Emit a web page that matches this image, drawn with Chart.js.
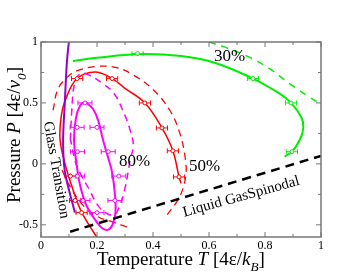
<!DOCTYPE html>
<html><head><meta charset="utf-8">
<script src="https://cdn.jsdelivr.net/npm/chart.js@4/dist/chart.umd.min.js"></script>
<style>html,body{margin:0;padding:0;background:#fff}#wrap{width:362px;height:280px}</style>
</head><body><div id="wrap"><canvas id="c" width="362" height="280"></canvas></div>
<script>
// ---- tick labels ----
const xTickLabels = [0, 0.2, 0.4, 0.6, 0.8, 1];
const yTickLabels = [-0.5, 0, 0.5, 1];
const xMinorTicks = [0.1, 0.3, 0.5, 0.7, 0.9];
const yMinorTicks = [-0.25, 0.25, 0.75];

// ---- curves (T, P) ----
const green30T = [0.114, 0.2, 0.345, 0.5, 0.62, 0.757, 0.85, 0.893, 0.93, 0.937, 0.925, 0.896, 0.87];
const green30P = [0.845, 0.87, 0.9, 0.885, 0.83, 0.70, 0.58, 0.50, 0.38, 0.30, 0.2, 0.10, 0.06];
const green30dT = [0.6, 0.654, 0.74, 0.81, 0.893, 0.957, 1.0];
const green30dP = [1.0, 0.96, 0.88, 0.79, 0.65, 0.55, 0.49];

const red50T = [0.21, 0.146, 0.114, 0.086, 0.068, 0.072, 0.088, 0.129, 0.193, 0.254, 0.30, 0.371, 0.432, 0.471, 0.493, 0.50];
const red50P = [-0.64, -0.40, -0.21, 0.0, 0.2, 0.385, 0.53, 0.70, 0.754, 0.70, 0.62, 0.50, 0.295, 0.107, -0.107, -0.16];
const red50dT = [0.043, 0.06, 0.093, 0.13, 0.2, 0.27, 0.329, 0.4, 0.46, 0.496, 0.515, 0.517, 0.495, 0.45];
const red50dP = [0.44, 0.61, 0.71, 0.765, 0.80, 0.79, 0.73, 0.61, 0.44, 0.25, 0.05, -0.1, -0.27, -0.42];
const red50d2T = [0.075, 0.1, 0.15, 0.2, 0.26, 0.31];
const red50d2P = [-0.05, -0.17, -0.34, -0.43, -0.48, -0.52];

const mag80T = [0.157, 0.186, 0.205, 0.221, 0.24, 0.254, 0.264, 0.266, 0.255, 0.24, 0.22, 0.2, 0.164, 0.14, 0.127, 0.118, 0.125, 0.14, 0.157];
const mag80P = [0.51, 0.45, 0.35, 0.2, 0.05, -0.07, -0.25, -0.40, -0.5, -0.54, -0.53, -0.48, -0.35, -0.18, 0.0, 0.2, 0.38, 0.48, 0.51];
const mag80dT = [0.105, 0.11, 0.12, 0.14, 0.17, 0.22, 0.26, 0.29, 0.318, 0.33, 0.32, 0.30, 0.28, 0.26, 0.23, 0.2, 0.17, 0.145, 0.125, 0.105];
const mag80dP = [0.2, 0.44, 0.66, 0.74, 0.73, 0.66, 0.58, 0.45, 0.28, 0.15, 0.05, -0.2, -0.35, -0.42, -0.4, -0.33, -0.2, -0.1, 0.0, 0.2];

const glassT = [0.102, 0.093, 0.085, 0.079, 0.082, 0.09, 0.121];
const glassP = [1.05, 0.85, 0.5, 0.2, 0.0, -0.12, -0.40];

const spinT = [0.104, 1.0];
const spinP = [-0.557, 0.066];

// ---- simulation points with T error ----
const redPtT = [0.129, 0.254, 0.371, 0.432, 0.471, 0.493, 0.105, 0.122, 0.145];
const redPtP = [0.70, 0.70, 0.50, 0.295, 0.107, -0.107, -0.1, -0.3, -0.4];
const redPtErr = [0.02, 0.02, 0.02, 0.02, 0.02, 0.02, 0.02, 0.02, 0.02];
const magPtT = [0.157, 0.129, 0.2, 0.13, 0.24, 0.13, 0.278, 0.15, 0.264, 0.2];
const magPtP = [0.5, 0.3, 0.3, 0.1, 0.1, -0.1, -0.1, -0.3, -0.3, -0.4];
const magPtErr = [0.025, 0.025, 0.025, 0.025, 0.025, 0.025, 0.025, 0.025, 0.025, 0.025];
const grnPtT = [0.345, 0.757, 0.893, 0.896];
const grnPtP = [0.905, 0.70, 0.50, 0.10];
const grnPtErr = [0.02, 0.02, 0.02, 0.02];

const zip = (a, b) => a.map((v, i) => ({x: v, y: b[i]}));
const SERIF = '"Liberation Serif", "Times New Roman", serif';

function curve(T, P, color, width, dash) {
  return {data: zip(T, P), showLine: true, borderColor: color, borderWidth: width,
    borderDash: dash || [], pointRadius: 0, pointHoverRadius: 0, tension: 0.4, fill: false};
}
function pts(T, P, color, err) {
  return {data: zip(T, P), showLine: false, borderColor: color, backgroundColor: '#fff',
    pointRadius: 2, pointBorderWidth: 1, pointStyle: 'circle', errT: err};
}

function drawRich(ctx, parts, x, y, size) {
  let w = 0;
  parts.forEach(p => {
    const s = p.sub ? size * 0.7 : size;
    ctx.font = (p.it ? 'italic ' : '') + s + 'px ' + SERIF;
    p.w = ctx.measureText(p.t).width; w += p.w;
  });
  let cx = x - w / 2;
  parts.forEach(p => {
    const s = p.sub ? size * 0.7 : size;
    ctx.font = (p.it ? 'italic ' : '') + s + 'px ' + SERIF;
    ctx.fillText(p.t, cx, y + (p.sub ? size * 0.3 : 0));
    cx += p.w;
  });
}

const deco = {
  id: 'deco',
  beforeDatasetsDraw(chart) {
    const ctx = chart.ctx, xs = chart.scales.x, ys = chart.scales.y;
    ctx.save();
    chart.data.datasets.forEach(ds => {
      if (!ds.errT) return;
      ctx.strokeStyle = ds.borderColor; ctx.lineWidth = 1;
      ds.data.forEach((p, i) => {
        const y = ys.getPixelForValue(p.y);
        const x1 = xs.getPixelForValue(p.x - ds.errT[i]);
        const x2 = xs.getPixelForValue(p.x + ds.errT[i]);
        ctx.beginPath();
        ctx.moveTo(x1, y); ctx.lineTo(x2, y);
        ctx.moveTo(x1, y - 2.5); ctx.lineTo(x1, y + 2.5);
        ctx.moveTo(x2, y - 2.5); ctx.lineTo(x2, y + 2.5);
        ctx.stroke();
      });
    });
    ctx.restore();
  },
  afterDraw(chart) {
    const ctx = chart.ctx, xs = chart.scales.x, ys = chart.scales.y, a = chart.chartArea;
    ctx.save();
    // frame
    ctx.strokeStyle = '#777'; ctx.lineWidth = 1.5;
    ctx.strokeRect(a.left, a.top, a.right - a.left, a.bottom - a.top);
    // inward ticks
    ctx.lineWidth = 1;
    const tx = (v, L) => { const x = xs.getPixelForValue(v);
      ctx.beginPath(); ctx.moveTo(x, a.bottom); ctx.lineTo(x, a.bottom - L);
      ctx.moveTo(x, a.top); ctx.lineTo(x, a.top + L); ctx.stroke(); };
    const ty = (v, L) => { const y = ys.getPixelForValue(v);
      ctx.beginPath(); ctx.moveTo(a.left, y); ctx.lineTo(a.left + L, y);
      ctx.moveTo(a.right, y); ctx.lineTo(a.right - L, y); ctx.stroke(); };
    xTickLabels.forEach(v => tx(v, 5)); xMinorTicks.forEach(v => tx(v, 3));
    yTickLabels.forEach(v => ty(v, 5)); yMinorTicks.forEach(v => ty(v, 3));
    // annotations
    ctx.fillStyle = '#000'; ctx.textBaseline = 'alphabetic'; ctx.textAlign = 'left';
    ctx.font = '17px ' + SERIF;
    ctx.fillText('30%', xs.getPixelForValue(0.618), ys.getPixelForValue(0.844));
    ctx.fillText('80%', xs.getPixelForValue(0.279), ys.getPixelForValue(-0.016));
    ctx.fillText('50%', xs.getPixelForValue(0.529), ys.getPixelForValue(-0.057));
    ctx.font = '15px ' + SERIF; ctx.textAlign = 'center'; ctx.textBaseline = 'middle';
    ctx.save();
    ctx.translate(xs.getPixelForValue(0.715), ys.getPixelForValue(-0.27));
    ctx.rotate(-15.5 * Math.PI / 180);
    ctx.fillText('Liquid GasSpinodal', 0, 0);
    ctx.restore();
    ctx.save();
    ctx.font = '15px ' + SERIF;
    ctx.translate(xs.getPixelForValue(0.054), ys.getPixelForValue(-0.05));
    ctx.rotate(80 * Math.PI / 180);
    ctx.fillText('Glass Transition', 0, 0);
    ctx.restore();
    // axis titles
    ctx.textAlign = 'left'; ctx.textBaseline = 'alphabetic';
    drawRich(ctx, [{t: 'Temperature '}, {t: 'T', it: true}, {t: ' [4ε/'}, {t: 'k', it: true},
      {t: 'B', it: true, sub: true}, {t: ']'}], (a.left + a.right) / 2, 265, 19);
    ctx.save();
    ctx.translate(20, 135); ctx.rotate(-Math.PI / 2);
    drawRich(ctx, [{t: 'Pressure '}, {t: 'P', it: true}, {t: ' [4ε/'}, {t: 'v', it: true},
      {t: '0', it: true, sub: true}, {t: ']'}], 0, 0, 19);
    ctx.restore();
    ctx.restore();
  }
};

new Chart(document.getElementById('c'), {
  type: 'scatter',
  data: {datasets: [
    pts(redPtT, redPtP, '#ff0000', redPtErr),
    pts(magPtT, magPtP, '#ff00ff', magPtErr),
    pts(grnPtT, grnPtP, '#00ee00', grnPtErr),
    curve(spinT, spinP, '#000', 2.5, [9, 6]),
    curve(glassT, glassP, '#9400d3', 2),
    curve(mag80T, mag80P, '#ff00ff', 2),
    curve(mag80dT, mag80dP, '#ff00ff', 1.5, [7, 5]),
    curve(red50T, red50P, '#ff0000', 1.5),
    curve(red50dT, red50dP, '#ff0000', 1.3, [7, 5]),
    curve(red50d2T, red50d2P, '#ff0000', 1.3, [7, 5]),
    curve(green30T, green30P, '#00ee00', 2),
    curve(green30dT, green30dP, '#00ee00', 1.5, [7, 6])
  ]},
  options: {
    responsive: false, animation: false, devicePixelRatio: 1,
    layout: {padding: {left: 0, right: 41, top: 42, bottom: 0}},
    plugins: {legend: {display: false}, tooltip: {enabled: false}},
    scales: {
      x: {type: 'linear', min: 0, max: 1,
        grid: {display: false, drawTicks: false}, border: {display: false},
        afterBuildTicks: s => { s.ticks = xTickLabels.map(v => ({value: v})); },
        afterFit: s => { s.height = 43; },
        ticks: {padding: 2, color: '#000', font: {family: SERIF, size: 12}, maxRotation: 0,
          callback: v => String(v)}},
      y: {type: 'linear', min: -0.6, max: 1,
        grid: {display: false, drawTicks: false}, border: {display: false},
        afterBuildTicks: s => { s.ticks = yTickLabels.map(v => ({value: v})); },
        afterFit: s => { s.width = 41; },
        ticks: {padding: 3, color: '#000', font: {family: SERIF, size: 12},
          callback: v => String(v)}}
    }
  },
  plugins: [deco]
});
</script></body></html>
